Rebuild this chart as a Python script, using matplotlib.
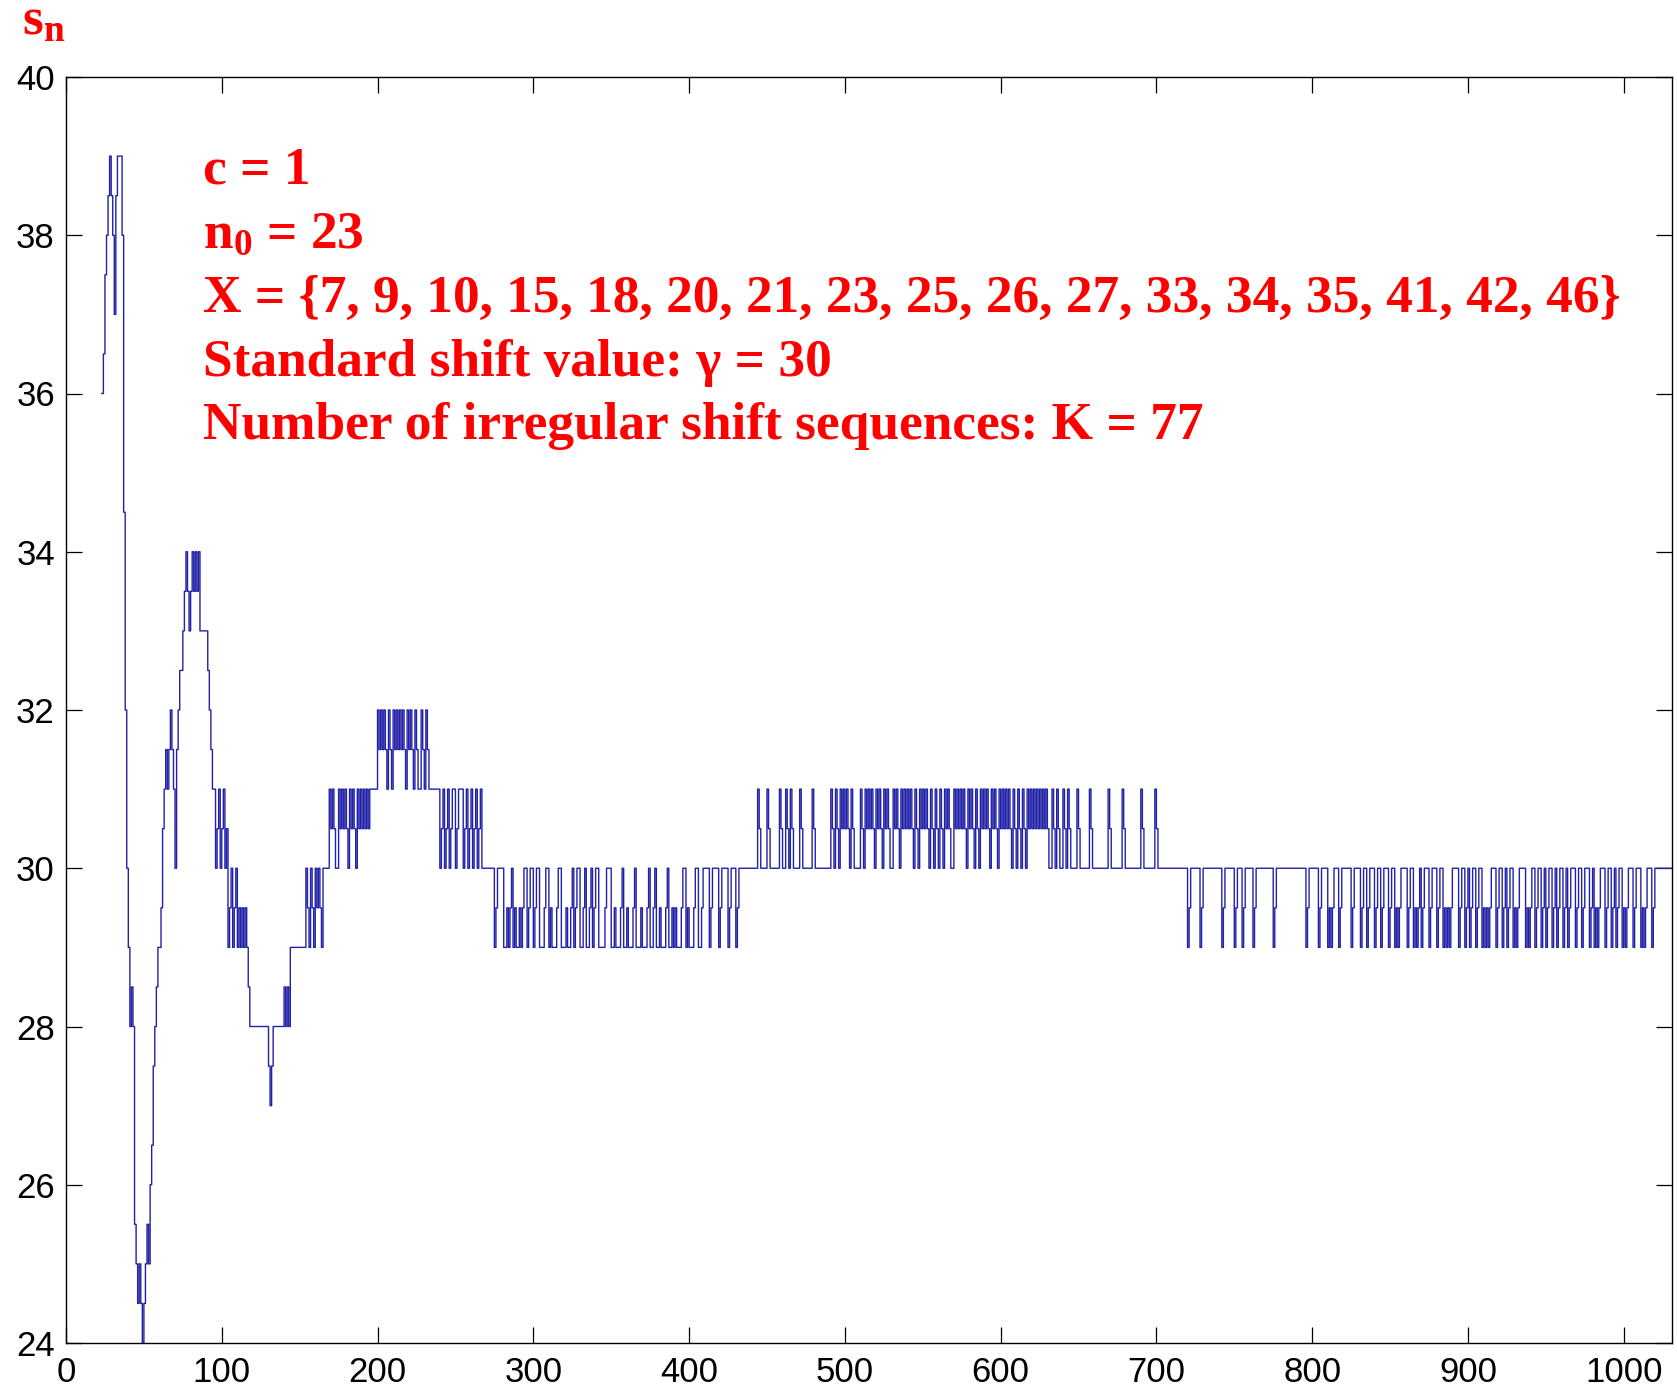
import numpy as np
import matplotlib
matplotlib.use('Agg')
import matplotlib.pyplot as plt

plt.rcParams['mathtext.fontset'] = 'custom'
plt.rcParams['mathtext.rm'] = 'Liberation Serif:bold'
plt.rcParams['mathtext.it'] = 'Liberation Serif:bold'
plt.rcParams['mathtext.bf'] = 'Liberation Serif:bold'

W, H = 1677, 1393
N_START, N_END = 23, 1031

# s_n read sample by sample for the transient, n = 23 .. 94
early_s = [36, 36.5, 37.5, 38, 38.5, 39, 38.5, 38, 37, 38.5,
           39, 39, 39, 38, 34.5, 32, 30, 29, 28, 28.5,
           28, 25.5, 25, 24.5, 25, 24.5, 23, 24.5, 25, 25.5,
           25, 26, 26.5, 27.5, 28, 28.5, 29, 29, 29.5, 30.5,
           31, 31.5, 31, 31.5, 32, 31.5, 31, 30, 31.5, 32,
           32.5, 32.5, 33, 33.5, 34, 33.5, 33, 33.5, 34, 33.5,
           34, 33.5, 34, 33, 33, 33, 33, 33, 32.5, 32,
           31.5, 31]

# piecewise base level after the transient (level holds from seg_n on)
seg_n = [95, 103, 116, 117, 118, 130, 131, 132, 133, 140, 141, 142, 143, 144, 165, 195, 267]
seg_s = [31, 30, 29, 28.5, 28, 27.5, 27, 27.5, 28, 28.5, 28, 28.5, 28, 29, 30, 31, 30]

# upward excursions (+1, back through +0.5)
peak_n = [154, 157, 160, 162,
          169, 171, 175, 177, 179, 182, 184, 187, 189, 191, 193,
          200, 202, 204, 207, 210, 212, 214, 216, 219, 221, 224, 228, 231,
          444, 450, 458, 462, 465, 471, 479,
          491, 494, 497, 499, 501, 504, 510, 513, 515, 517, 520, 522, 525, 527,
          531, 533, 536, 538, 540, 542, 545, 548, 550, 552, 555, 558, 561, 564,
          566, 570, 572, 574, 576, 579, 581, 584, 587, 589, 591, 594, 596, 599,
          601, 603, 605, 608, 611, 614, 617, 619, 621, 623, 625, 627, 629, 633,
          636, 640, 643, 649, 657, 669, 678, 690, 699]

# downward excursions (-1 for dip_w samples, back through -0.5)
dip_n = [96, 99, 102, 104, 107, 110, 112, 114,
         240, 243, 246, 250, 255, 258, 261, 264,
         275, 281, 284, 287, 289, 292, 296, 300, 304, 306, 310, 312, 314, 318,
         322, 326, 330, 334, 338, 342, 350, 353, 358, 361, 366, 370, 375, 379,
         382, 387, 390, 392, 398, 400, 406, 413, 419, 425, 430,
         720, 728, 742, 750, 755, 762, 775,
         796, 804, 810, 812, 817, 825, 831, 835, 840, 844, 849, 853, 855, 861,
         865, 867, 870, 875, 880, 884, 886, 888, 894, 898, 901, 905, 909, 911,
         913, 918, 922, 925, 929, 931, 937, 939, 943, 947, 950, 954, 957, 961,
         964, 969, 973, 978, 981, 983, 988, 992, 995, 999, 1001, 1006, 1011,
         1013, 1018]
dip_w = [1] * 16 + [1, 2, 1, 1, 2, 1, 1, 1, 2, 1, 1, 2, 1, 3,
                    2, 1, 2, 2, 1, 4, 2, 3, 2, 3, 3, 3, 2, 2,
                    3, 2, 1, 3, 1, 3, 2, 1, 1, 1, 1]
dip_w += [1] * (len(dip_n) - len(dip_w))

x_ticks = list(range(0, 1001, 100))
y_ticks = list(range(24, 41, 2))

info_lines = ['c = 1',
              'n$_0$ = 23',
              'X = {7, 9, 10, 15, 18, 20, 21, 23, 25, 26, 27, 33, 34, 35, 41, 42, 46}',
              'Standard shift value: \u03b3 = 30',
              'Number of irregular shift sequences: K = 77']

n = np.arange(N_START, N_END + 1)
s = np.zeros(n.size)
assert len(early_s) == seg_n[0] - N_START
s[:len(early_s)] = early_s
for k, (a, lev) in enumerate(zip(seg_n, seg_s)):
    b = seg_n[k + 1] if k + 1 < len(seg_n) else N_END + 1
    s[a - N_START:b - N_START] = lev
base = s.copy()
for p in peak_n:
    i = p - N_START
    s[i] = base[i] + 1
    s[i + 1] = base[i] + 0.5
for p, w in zip(dip_n, dip_w):
    i = p - N_START
    s[i:i + w] = base[i] - 1
    s[i + w] = base[i] - 0.5

fig = plt.figure(figsize=(W / 100, H / 100), dpi=100)
ax = fig.add_axes([66 / W, 1 - 1343 / H, (1672 - 66) / W, (1343 - 77) / H])
ax.plot(n, s, color='#2020a8', lw=1.0, drawstyle='steps-post')
ax.set_xlim(0, 1031)
ax.set_ylim(24, 40)
ax.set_xticks(x_ticks)
ax.set_yticks(y_ticks)
ax.tick_params(direction='in', length=11.5, width=0.9, top=True, right=True,
               labelsize=25, colors='black')
ax.tick_params(axis='x', pad=9)
ax.tick_params(axis='y', pad=8)
for lab in ax.get_xticklabels() + ax.get_yticklabels():
    lab.set_fontfamily('Liberation Sans')
for sp in ax.spines.values():
    sp.set_linewidth(1.0)

baselines = [184, 248, 312, 376, 439]
for txt, yb in zip(info_lines, baselines):
    fig.text(203 / W, 1 - yb / H, txt, color='red', fontsize=38.4,
             fontfamily='Liberation Serif', fontweight='bold', va='baseline')
fig.text(22 / W, 1 - 35 / H, 's$_n$', color='red', fontsize=38.4,
         fontfamily='Liberation Serif', fontweight='bold', va='baseline')

fig.savefig('out.png', dpi=100)
